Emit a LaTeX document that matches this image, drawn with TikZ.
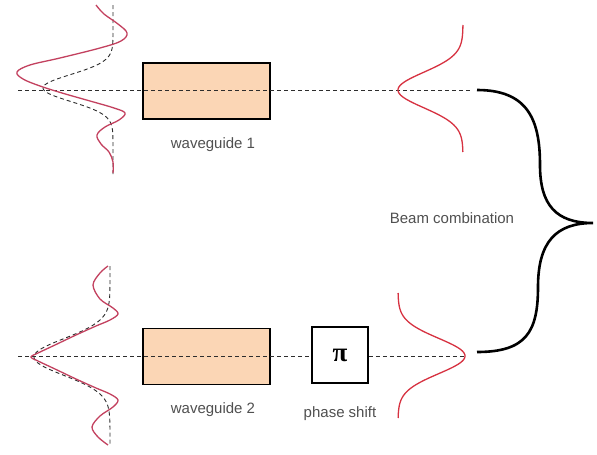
\documentclass[tikz,border=0pt]{standalone}
\usepackage{fontspec}
\setmainfont{Liberation Sans}
\newfontfamily\pifont{Liberation Serif}
\begin{document}
\begin{tikzpicture}[x=1pt,y=-1pt,
  wgbox/.style={draw=black, line width=1.8pt, fill=peach, minimum width=127pt, minimum height=56pt, inner sep=0pt},
  psbox/.style={draw=black, line width=1.6pt, fill=white, minimum width=56pt, minimum height=56pt, inner sep=0pt},
  lbl/.style={text=labelgray, font=\fontsize{15}{17}\selectfont, inner sep=0pt},
  axis/.style={draw=axisgray, line width=0.9pt, dash pattern=on 4pt off 3pt},
  modeA/.style={draw=redA, line width=1.3pt},
  modeB/.style={draw=redB, line width=1.3pt},
  profile/.style={draw=axisgray, line width=0.9pt, dash pattern=on 4pt off 3pt},
  bracestyle/.style={draw=black, line width=2.6pt}
]
\definecolor{peach}{RGB}{251,214,181}
\definecolor{labelgray}{RGB}{80,80,80}
\definecolor{axisgray}{RGB}{45,45,45}
\definecolor{redA}{RGB}{195,65,95}
\definecolor{redB}{RGB}{215,50,65}
\useasboundingbox (0,0) rectangle (597,455);
\fill[white] (0,0) rectangle (597,455);

% boxes
\node[wgbox] (wg1) at (206.5,91) {};
\node[wgbox] (wg2) at (206.5,356.5) {};
\node[psbox] (ps) at (340,355) {\pifont\bfseries\fontsize{27}{29}\selectfont π};

% labels
\node[lbl] (l1) at (213,145) {waveguide 1};
\node[lbl] (l2) at (213,410) {waveguide 2};
\node[lbl] (l3) at (340,414) {phase shift};
\node[lbl] (l4) at (452,218) {Beam combination};

% axes
\coordinate (a1s) at (18,90);
\coordinate (a1e) at (470,90);
\coordinate (a2s) at (18,356);
\coordinate (a2e) at (465,356);
\path[axis] (a1s) -- (a1e);
\path[axis] (a2s) -- (ps.west |- a2s);
\path[axis] (ps.east |- a2s) -- (a2e);

% input profiles top
\path[profile] plot[variable=\t, domain=5:175, samples=120] ({113-70*exp(-((\t-88)/19)^2)},\t);
\path[modeA] plot[smooth, tension=0.6] coordinates {
 (96,5) (104,14) (118,24) (127,33) (121,41) (100,48) (60,58) (30,65) (17,72)
 (23,79) (40,86) (62,93) (90,101) (114,108) (125,113) (119,120) (105,127) (97,135)
 (101,144) (109,152) (113,162) (113,173)};

% input profiles bottom
\path[profile] plot[variable=\t, domain=266:446, samples=120] ({110-76*exp(-((\t-357)/26)^2)},\t);
\path[modeA] plot[smooth, tension=0.55] coordinates {
 (108,266) (100,273) (93,285) (100,299) (113,308) (118,314) (110,320) (96,326)
 (76,335) (55,345) (38,353) (31,357) (38,361) (55,369) (76,379) (96,388)
 (110,394) (118,400) (113,407) (100,416) (92,427) (98,437) (108,445)};

% output profiles
\path[modeB] plot[variable=\t, domain=25:152, samples=100] ({463-65*exp(-((\t-90)/25)^2)},\t);
\path[modeB] plot[variable=\t, domain=293:418, samples=100] ({398+67*exp(-((\t-356)/25)^2)},\t);

% brace
\coordinate (b1) at (477,90);
\coordinate (bt) at (593,223);
\coordinate (b2) at (477,352);
\path[bracestyle] (b1) .. controls (528,90) and (540,120) .. (540,165)
  .. controls (540,205) and (556,223) .. (bt)
  .. controls (556,223) and (538,242) .. (538,287)
  .. controls (538,332) and (526,352) .. (b2);
\end{tikzpicture}
\end{document}
